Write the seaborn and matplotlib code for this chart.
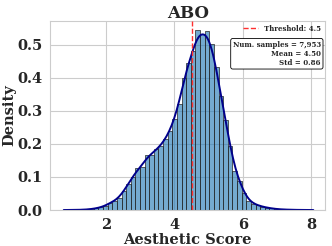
import numpy as np
import matplotlib
matplotlib.use("Agg")
import matplotlib.pyplot as plt
import seaborn as sns

# Histogram: density per bin, bins of equal width
bin_start = 0.70
bin_width = 0.135
density = [
    0.0002, 0.0003, 0.0004, 0.0006, 0.001, 0.0015, 0.003, 0.005, 0.008,
    0.012, 0.022, 0.027, 0.035, 0.057, 0.079, 0.100, 0.125, 0.128,
    0.164, 0.165, 0.181, 0.191, 0.211, 0.236, 0.271, 0.316, 0.395,
    0.438, 0.475, 0.538, 0.525, 0.535, 0.495, 0.428, 0.340, 0.270,
    0.190, 0.117, 0.087, 0.050, 0.027, 0.019, 0.014, 0.010, 0.007,
    0.005, 0.003, 0.002, 0.0015, 0.001, 0.0007, 0.0005, 0.0003, 0.0002, 0.0002,
]

n_samples = 7953
mean_score = 4.50
std_score = 0.86
threshold = 4.5
dataset_name = "ABO"

edges = bin_start + bin_width * np.arange(len(density) + 1)
centers = (edges[:-1] + edges[1:]) / 2

sns.set_style("whitegrid")
plt.rcParams["font.family"] = ["DejaVu Serif"]
plt.rcParams["font.weight"] = "bold"
plt.rcParams["axes.labelweight"] = "bold"
plt.rcParams["axes.titleweight"] = "bold"

fig, ax = plt.subplots(figsize=(3.32, 2.46), dpi=100)
fig.subplots_adjust(left=0.152, right=0.979, bottom=0.146, top=0.916)

sns.histplot(
    x=centers,
    weights=density,
    binwidth=bin_width,
    binrange=(edges[0], edges[-1]),
    stat="density",
    kde=True,
    kde_kws={"bw_adjust": 0.3},
    color="#1f77b4",
    alpha=0.62,
    edgecolor="#222222",
    linewidth=0.5,
    ax=ax,
)
# KDE line in dark blue
ax.lines[0].set_color("#00008B")
ax.lines[0].set_linewidth(1.4)

ax.axvline(threshold, color="#ff3030", linestyle="--", linewidth=1.0,
           zorder=3, label=f"Threshold: {threshold}")

ax.legend(loc="upper right", frameon=False, prop={"size": 5, "weight": "bold"},
          handlelength=2.2, borderaxespad=0.2)

stats_text = (f"Num. samples = {n_samples:,}\n"
              f"Mean = {mean_score:.2f}\n"
              f"Std = {std_score:.2f}")
ax.text(0.985, 0.895, stats_text, transform=ax.transAxes, ha="right", va="top",
        multialignment="right", fontsize=5, fontweight="bold", zorder=5,
        bbox=dict(boxstyle="round,pad=0.3", facecolor="white", edgecolor="black",
                  linewidth=0.6))

ax.set_xlim(0.38, 8.4)
ax.set_xticks([2, 4, 6, 8])
ax.set_yticks([0.0, 0.1, 0.2, 0.3, 0.4, 0.5])
ax.tick_params(labelsize=10.5, pad=2)
ax.set_xlabel("Aesthetic Score", fontsize=10.5, labelpad=1)
ax.set_ylabel("Density", fontsize=10.5, labelpad=1)
ax.set_title(dataset_name, fontsize=12, pad=2)

fig.savefig("out.png", dpi=100)
